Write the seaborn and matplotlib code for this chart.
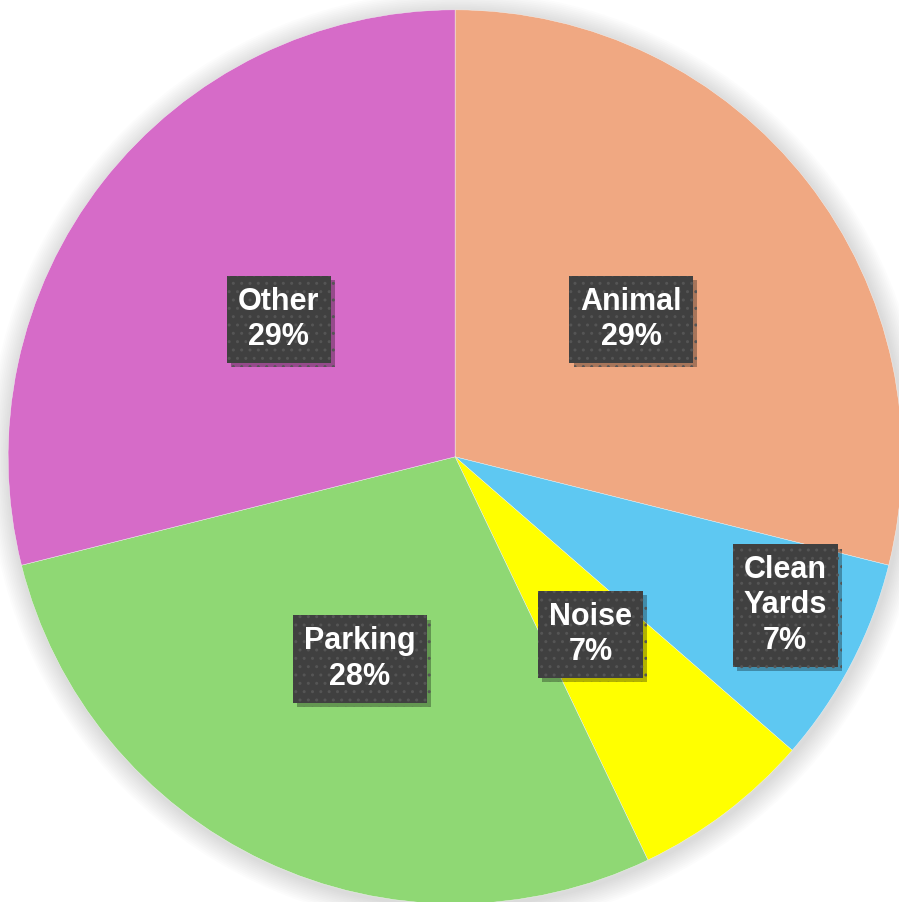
import matplotlib
matplotlib.use("Agg")
import matplotlib.pyplot as plt
import matplotlib.patheffects as pe
from matplotlib.patches import Circle
import numpy as np
import seaborn as sns

sns.set_theme(style="white")
plt.rcParams['font.family'] = ['Liberation Sans', 'DejaVu Sans']

categories = ["Animal", "Clean\nYards", "Noise", "Parking", "Other"]
values = [28.9, 7.5, 6.5, 28.2, 28.9]
pct_labels = ["29%", "7%", "7%", "28%", "29%"]
colors = ["#F0A882", "#5EC8F2", "#FFFF00", "#8FD874", "#D66BC8"]
label_dist = [0.5, 0.81, 0.5, 0.5, 0.5]
label_turn = [0, 3.3, 0, 0, 0]  # degrees, label nudged off the wedge middle

fig = plt.figure(figsize=(8.99, 9.02), dpi=100)
ax = fig.add_axes([0, 0, 1, 1])

# soft shadow round the pie
for k in range(12):
    ax.add_patch(Circle((0.004, -0.006), 1.0 + 0.004 * (12 - k), color="#888888",
                        alpha=0.025, lw=0, zorder=0))

wedges, _ = ax.pie(values, colors=colors, startangle=90, counterclock=False,
                   wedgeprops=dict(linewidth=0.3, edgecolor="#f4f4f4"))

for w, cat, pct, d, turn in zip(wedges, categories, pct_labels, label_dist, label_turn):
    ang = np.deg2rad((w.theta1 + w.theta2) / 2 + turn)
    x, y = d * np.cos(ang), d * np.sin(ang)
    t = ax.text(x, y, f"{cat}\n{pct}", ha="center", va="center", color="white",
                fontsize=22, fontweight="bold", linespacing=1.22, zorder=5,
                bbox=dict(boxstyle="square,pad=0.36", facecolor="#404040",
                          edgecolor="#555555", hatch="..", linewidth=0))
    t.get_bbox_patch().set_path_effects([
        pe.SimplePatchShadow(offset=(3, -3), shadow_rgbFace="black", alpha=0.3),
        pe.Normal()])

ax.set_xlim(-1.018, 0.993)
ax.set_ylim(-0.996, 1.022)
ax.set_aspect("equal", adjustable="box")
ax.axis("off")

fig.savefig("out.png", dpi=100, facecolor="white")
